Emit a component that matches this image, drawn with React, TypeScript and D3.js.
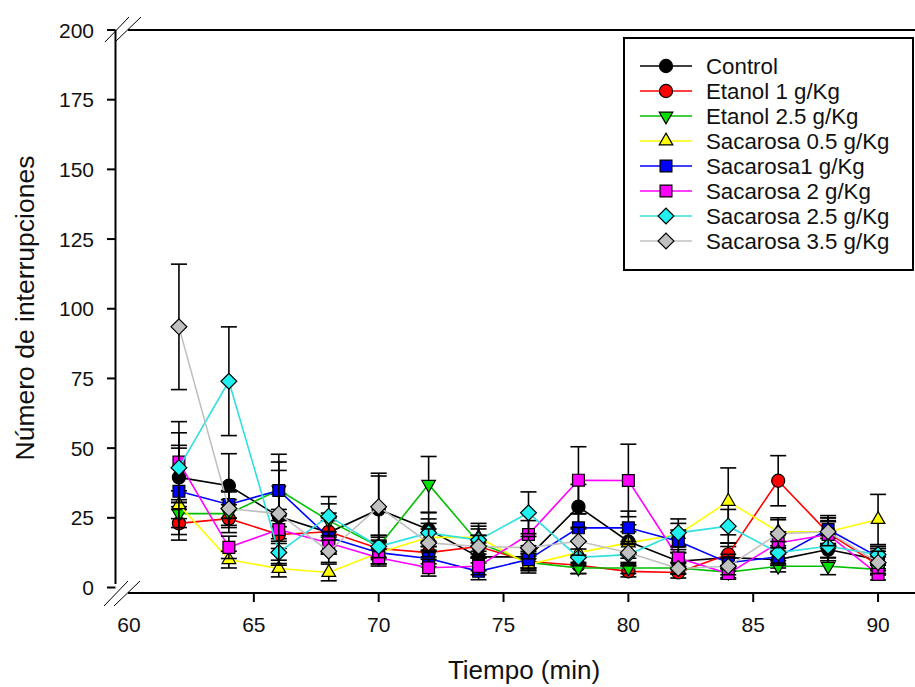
import React from 'react';
import * as d3 from 'd3';

const times = [62, 64, 66, 68, 70, 72, 74, 76, 78, 80, 82, 84, 86, 88, 90];
const seriesNames = [
  'Control',
  'Etanol 1 g/Kg',
  'Etanol 2.5 g/Kg',
  'Sacarosa 0.5 g/Kg',
  'Sacarosa1 g/Kg',
  'Sacarosa 2 g/Kg',
  'Sacarosa 2.5 g/Kg',
  'Sacarosa 3.5 g/Kg',
];

const control = [39.5, 36.5, 25.5, 19.7, 28, 20.8, 11, 11, 29, 16.5, 9.4, 10.7, 10, 13.6, 10];
const controlErr = [11.5, 11.5, 8, 7, 12, 6, 5, 4, 8, 6, 3, 4, 3, 4, 4];
const etanol1 = [23, 24.7, 19, 20, 14, 12.5, 14.7, 9.3, 8, 5.8, 5.4, 11.9, 38.3, 19.6, 8];
const etanol1Err = [6, 5, 5, 5, 4, 4, 4, 3, 3, 2, 2, 4, 9, 4, 3];
const etanol25 = [26.5, 26.5, 35, 24, 14.7, 37, 16, 9, 7, 7, 7, 5.5, 7.6, 7.6, 6.5];
const etanol25Err = [5, 5, 7, 6, 4, 10, 5, 3, 2, 2, 2, 2, 2, 3, 2];
const sac05 = [29.7, 10, 6.8, 5.4, 12.5, 18, 18, 8.2, 12.5, 16, 19, 30.9, 20, 20, 24.4];
const sac05Err = [5, 3, 3, 3, 4, 5, 5, 3, 4, 4, 4, 12, 5, 5, 9];
const sac1 = [34.5, 29.8, 34.8, 18, 12.5, 10.4, 5.8, 10, 21.4, 21.4, 16.6, 8.9, 11, 20.8, 11];
const sac1Err = [15.5, 5, 13, 6, 4, 3, 3, 3, 5, 6, 4, 3, 3, 5, 3];
const sac2 = [45, 14.4, 20.8, 16, 10.7, 7.1, 7.6, 19, 38.5, 38.4, 10.6, 5, 16, 19, 4.7];
const sac2Err = [14.5, 4, 5, 4, 3, 3, 3, 5, 12, 13, 3, 2, 4, 5, 2];
const sac25 = [43, 74, 12.6, 25.6, 14.7, 19.6, 17, 26.8, 10.8, 11.8, 19.6, 22, 12.5, 14.8, 11.8];
const sac25Err = [12.5, 19.5, 4, 7, 4, 5, 5, 7.5, 3, 4, 5, 6, 4, 4, 3];
const sac35 = [93.5, 28.3, 26.5, 13, 29, 16, 14.7, 14.3, 16.6, 12.5, 6.8, 7.6, 19.3, 20, 9];
const sac35Err = [22.5, 6, 18.5, 4, 12, 5, 4, 4, 5, 4, 2, 3, 5, 5, 4];

const seriesValues = [control, etanol1, etanol25, sac05, sac1, sac2, sac25, sac35];
const seriesErrors = [controlErr, etanol1Err, etanol25Err, sac05Err, sac1Err, sac2Err, sac25Err, sac35Err];

const xTicks = [65, 70, 75, 80, 85, 90];
const xTickLabels = [60, 65, 70, 75, 80, 85, 90];
const yTicks = [0, 25, 50, 75, 100, 125, 150, 175, 200];

const lineColors = ['#000000', '#ff0000', '#00c000', '#ffff00', '#0000ff', '#ff00ff', '#30e0e0', '#c0c0c0'];
const fillColors = ['#000000', '#ff0000', '#00e000', '#ffff00', '#0000ff', '#ff00ff', '#20f0f0', '#c0c0c0'];
const shapes = ['circle', 'circle', 'triDown', 'triUp', 'square', 'square', 'diamond', 'diamond'];

const W = 915;
const H = 687;
const FONT = 'Liberation Sans, Arial, sans-serif';

const x = d3.scaleLinear().domain([60, 92]).range([129, 928]);
const y = d3.scaleLinear().domain([0, 200]).range([587.5, 30]);
const axisX = 115.5;
const axisY = 593;

function symbolPath(shape: string): { d: string; rot: number } {
  if (shape === 'circle') return { d: d3.symbol(d3.symbolCircle, 135)()!, rot: 0 };
  if (shape === 'square') return { d: d3.symbol(d3.symbolSquare, 140)()!, rot: 0 };
  if (shape === 'diamond') return { d: d3.symbol(d3.symbolSquare, 125)()!, rot: 45 };
  if (shape === 'triUp') return { d: d3.symbol(d3.symbolTriangle, 80)()!, rot: 0 };
  return { d: d3.symbol(d3.symbolTriangle, 80)()!, rot: 180 };
}

function Marker({ cx, cy, i }: { cx: number; cy: number; i: number }) {
  const s = symbolPath(shapes[i]);
  return (
    <path
      d={s.d}
      transform={`translate(${cx},${cy}) rotate(${s.rot})`}
      fill={fillColors[i]}
      stroke="#000"
      strokeWidth={1.2}
    />
  );
}

export default function App() {
  const line = d3
    .line<number>()
    .x((_, k) => x(times[k]))
    .y((v) => y(v));

  return (
    <svg
      width={W}
      height={H}
      style={{ position: 'absolute', left: 0, top: 0, background: '#fff' }}
      fontFamily={FONT}
    >
      <rect x={0} y={0} width={W} height={H} fill="#fff" />
      {seriesValues.map((vals, i) => (
        <g key={i}>
          <path d={line(vals)!} fill="none" stroke={lineColors[i]} strokeWidth={1.6} />
          {vals.map((v, k) => {
            const e = seriesErrors[i][k];
            const cx = x(times[k]);
            return (
              <g key={k} stroke="#000" strokeWidth={1.6}>
                <line x1={cx} x2={cx} y1={y(v + e)} y2={y(Math.max(0, v - e))} />
                <line x1={cx - 8} x2={cx + 8} y1={y(v + e)} y2={y(v + e)} />
                <line x1={cx - 8} x2={cx + 8} y1={y(Math.max(0, v - e))} y2={y(Math.max(0, v - e))} />
              </g>
            );
          })}
          {vals.map((v, k) => (
            <Marker key={'m' + k} cx={x(times[k])} cy={y(v)} i={i} />
          ))}
        </g>
      ))}

      <g stroke="#000" strokeWidth={2} fill="none">
        <line x1={axisX} x2={axisX} y1={30} y2={584} />
        <line x1={128} x2={W} y1={30} y2={30} />
        <line x1={128} x2={W} y1={axisY} y2={axisY} />
      </g>
      <g stroke="#000" strokeWidth={1}>
        <line x1={105} y1={42} x2={129} y2={17} />
        <line x1={115} y1={42} x2={141} y2={17} />
        <line x1={104} y1={606} x2={128} y2={581} />
        <line x1={114} y1={606} x2={140} y2={581} />
      </g>
      {yTicks.map((t) => (
        <g key={t}>
          <line x1={107} x2={axisX} y1={y(t)} y2={y(t)} stroke="#000" strokeWidth={2} />
          <text x={94} y={y(t)} textAnchor="end" dominantBaseline="central" fontSize={21} fill="#111">
            {t}
          </text>
        </g>
      ))}
      {xTicks.map((t) => (
        <line key={t} x1={x(t)} x2={x(t)} y1={axisY} y2={axisY + 9} stroke="#000" strokeWidth={2} />
      ))}
      {xTickLabels.map((t) => (
        <text key={'l' + t} x={x(t)} y={624} textAnchor="middle" dominantBaseline="central" fontSize={21} fill="#111">
          {t}
        </text>
      ))}
      <text x={524} y={679} textAnchor="middle" fontSize={26} fill="#111">
        Tiempo (min)
      </text>
      <text
        transform="translate(25,308) rotate(-90)"
        textAnchor="middle"
        dominantBaseline="central"
        fontSize={26.5}
        fill="#111"
      >
        Número de interrupciones
      </text>

      <rect x={624} y={38} width={289} height={232} fill="#fff" stroke="#000" strokeWidth={2} />
      {seriesNames.map((name, i) => {
        const ly = 66 + 25 * i;
        return (
          <g key={name}>
            <line x1={640} x2={692} y1={ly} y2={ly} stroke={lineColors[i]} strokeWidth={1.6} />
            <Marker cx={666} cy={ly} i={i} />
            <text x={706} y={ly} dominantBaseline="central" fontSize={22.3} fill="#111">
              {name}
            </text>
          </g>
        );
      })}
    </svg>
  );
}
